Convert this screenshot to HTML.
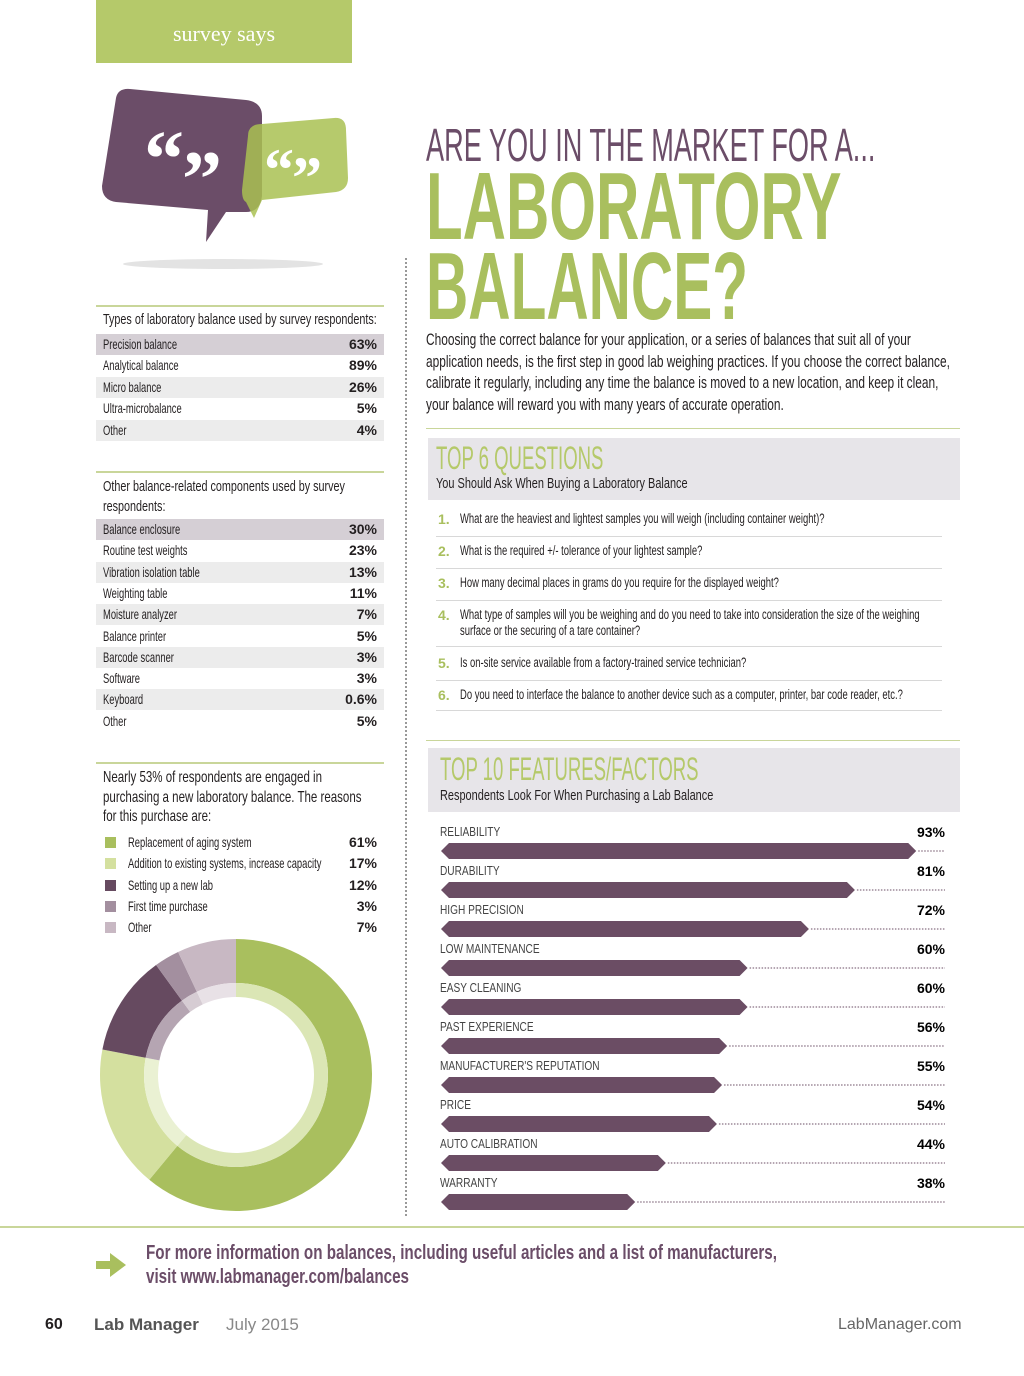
<!DOCTYPE html>
<html><head><meta charset="utf-8"><style>
*{margin:0;padding:0;box-sizing:border-box}
body{width:1024px;height:1376px;background:#fff;position:relative;overflow:hidden;font-family:"Liberation Sans",sans-serif;color:#231f20}
.a{position:absolute;white-space:nowrap;transform-origin:left top}
.row{position:absolute;left:96px;width:288px;height:21px;font-size:14px;line-height:21px;padding-left:7px;white-space:nowrap}
.row span.l{display:inline-block;transform:scaleX(.67);transform-origin:left center}
.row b{position:absolute;right:7px;font-weight:bold;font-size:14px}
.q{position:absolute;left:436px;width:506px;border-bottom:1px solid #d8d8d8}
.q i{font-style:normal;color:#a9bf5e;font-weight:bold;font-size:14px;position:absolute;left:2px;top:0}
.q span{position:absolute;left:24px;top:0;font-size:13.5px;line-height:16px;white-space:normal;width:660px;transform:scaleX(.7);transform-origin:left top}
</style></head><body>
<div class="a" style="left:96px;top:0;width:256px;height:63px;background:#b5c96a;color:#fff;font-family:'Liberation Serif',serif;font-size:22px;text-align:center;line-height:68px">survey says</div>

<svg class="a" style="left:96px;top:86px" width="260" height="190">
<ellipse cx="127" cy="178" rx="100" ry="5" fill="#e3e3e3"/>
<path d="M20 12 Q22 2 34 3 L150 14 Q166 16 166 30 L166 110 Q164 126 150 126 L130 126 L110 156 L112 124 L20 116 Q6 114 6 100 Z" fill="#6b4d68"/>
<path d="M152 50 Q152 38 166 38 L238 32 Q250 31 250 44 L252 92 Q252 104 240 106 L166 114 L158 132 L150 116 Q146 114 146 104 Z" fill="#a9c152" opacity="0.85"/>
<text x="48" y="100" font-family="Liberation Serif" font-weight="bold" font-size="80" fill="#fff">“</text>
<text x="86" y="120" font-family="Liberation Serif" font-weight="bold" font-size="80" fill="#fff">”</text>
<text x="168" y="104" font-family="Liberation Serif" font-weight="bold" font-size="60" fill="#fff">“</text>
<text x="196" y="112" font-family="Liberation Serif" font-weight="bold" font-size="60" fill="#fff">”</text>
</svg>

<div class="a" style="left:96px;top:305px;width:288px;height:2px;background:#c9d69a"></div>
<div class="a" style="left:103px;top:311px;font-size:15px;transform:scaleX(.72)">Types of laboratory balance used by survey respondents:</div>
<div id="t1"></div>
<div class="a" style="left:96px;top:471px;width:288px;height:2px;background:#c9d69a"></div>
<div class="a" style="left:103px;top:477px;font-size:15px;line-height:20px;white-space:normal;width:375px;transform:scaleX(.72)">Other balance-related components used by survey respondents:</div>
<div id="t2"></div>

<div class="a" style="left:96px;top:762px;width:288px;height:2px;background:#c9d69a"></div>
<div class="a" style="left:103px;top:768px;font-size:16px;line-height:19.5px;white-space:normal;width:382px;transform:scaleX(.72)">Nearly 53% of respondents are engaged in purchasing a new laboratory balance. The reasons for this purchase are:</div>
<div id="leg"></div>
<svg class="a" id="donut" style="left:96px;top:935px" width="280" height="280"></svg>

<div class="a" style="left:405px;top:258px;height:958px;border-left:2px dotted #999"></div>

<div class="a" style="left:426px;top:118px;font-size:46px;color:#6b4d68;transform:scaleX(0.59)">ARE YOU IN THE MARKET FOR A...</div>
<div class="a" style="left:426px;top:152px;font-size:96px;font-weight:bold;color:#a9bf5e;transform:scaleX(0.625)">LABORATORY</div>
<div class="a" style="left:426px;top:232px;font-size:96px;font-weight:bold;color:#a9bf5e;transform:scaleX(0.61)">BALANCE?</div>
<div class="a" style="left:426px;top:329px;width:750px;white-space:normal;font-size:17px;line-height:21.5px;transform:scaleX(.7)">Choosing the correct balance for your application, or a series of balances that suit all of your application needs, is the first step in good lab weighing practices. If you choose the correct balance, calibrate it regularly, including any time the balance is moved to a new location, and keep it clean, your balance will reward you with many years of accurate operation.</div>
<div class="a" style="left:426px;top:428px;width:534px;height:1px;background:#c9d69a"></div>

<div class="a" style="left:428px;top:438px;width:532px;height:62px;background:#e7e5e9"></div>
<div class="a" style="left:436px;top:440px;font-size:32px;color:#b5c96a;transform:scaleX(0.58)">TOP 6 QUESTIONS</div>
<div class="a" style="left:436px;top:475px;font-size:15px;transform:scaleX(.73)">You Should Ask When Buying a Laboratory Balance</div>
<div class="q" style="top:511px;height:26px"><i>1.</i><span>What are the heaviest and lightest samples you will weigh (including container weight)?</span></div>
<div class="q" style="top:543px;height:26px"><i>2.</i><span>What is the required +/- tolerance of your lightest sample?</span></div>
<div class="q" style="top:575px;height:26px"><i>3.</i><span>How many decimal places in grams do you require for the displayed weight?</span></div>
<div class="q" style="top:607px;height:40px"><i>4.</i><span>What type of samples will you be weighing and do you need to take into consideration the size of the weighing surface or the securing of a tare container?</span></div>
<div class="q" style="top:655px;height:26px"><i>5.</i><span>Is on-site service available from a factory-trained service technician?</span></div>
<div class="q" style="top:687px;height:24px"><i>6.</i><span>Do you need to interface the balance to another device such as a computer, printer, bar code reader, etc.?</span></div>

<div class="a" style="left:426px;top:740px;width:534px;height:1px;background:#c9d69a"></div>
<div class="a" style="left:428px;top:748px;width:532px;height:64px;background:#e7e5e9"></div>
<div class="a" style="left:440px;top:751px;font-size:32px;color:#b5c96a;transform:scaleX(0.58)">TOP 10 FEATURES/FACTORS</div>
<div class="a" style="left:440px;top:787px;font-size:15px;transform:scaleX(.73)">Respondents Look For When Purchasing a Lab Balance</div>
<svg class="a" id="bars" style="left:430px;top:815px" width="530" height="400"></svg>

<div class="a" style="left:0;top:1226px;width:1024px;height:2px;background:#c9d69a"></div>
<svg class="a" style="left:96px;top:1250px" width="34" height="30"><path d="M0 11 H14 V3 L30 15 L14 27 V19 H0 Z" fill="#a9bf5e"/></svg>
<div class="a" style="left:146px;top:1241px;font-size:20px;line-height:24px;font-weight:bold;color:#6b4d68;transform:scaleX(.76)">For more information on balances, including useful articles and a list of manufacturers,<br>visit www.labmanager.com/balances</div>
<div class="a" style="left:45px;top:1316px;font-size:16px;font-weight:bold">60</div>
<div class="a" style="left:94px;top:1315px;font-size:17px;font-weight:bold;color:#555">Lab Manager</div>
<div class="a" style="left:226px;top:1315px;font-size:17px;color:#888">July 2015</div>
<div class="a" style="left:838px;top:1316px;font-size:16px;color:#666">LabManager.com</div>

<script>
const t1Labels=["Precision balance","Analytical balance","Micro balance","Ultra-microbalance","Other"];
const t1Values=["63%","89%","26%","5%","4%"];
const t2Labels=["Balance enclosure","Routine test weights","Vibration isolation table","Weighting table","Moisture analyzer","Balance printer","Barcode scanner","Software","Keyboard","Other"];
const t2Values=["30%","23%","13%","11%","7%","5%","3%","3%","0.6%","5%"];
const reasonLabels=["Replacement of aging system","Addition to existing systems, increase capacity","Setting up a new lab","First time purchase","Other"];
const reasonValues=[61,17,12,3,7];
const featureLabels=["RELIABILITY","DURABILITY","HIGH PRECISION","LOW MAINTENANCE","EASY CLEANING","PAST EXPERIENCE","MANUFACTURER'S REPUTATION","PRICE","AUTO CALIBRATION","WARRANTY"];
const featureValues=[93,81,72,60,60,56,55,54,44,38];

function table(id,labels,vals,top,h,nm){
  const c=document.getElementById(id);
  labels.forEach((l,i)=>{
    const d=document.createElement('div');d.className='row';
    
    
    d.style.top=(top+i*h)+'px';
    d.style.background=i==0?'#d5cfd5':(i%2==0?'#ececec':'#fff');
    d.innerHTML='<span class="l">'+l+'</span><b>'+vals[i]+'</b>';c.appendChild(d);
  });
}
table('t1',t1Labels,t1Values,334,21.4,'balance-type');
table('t2',t2Labels,t2Values,519,21.3,'component');

const cols=["#a9bf5e","#d4e09f","#664a60","#a38f9f","#c8b8c3"];
const inner=["#dbe6b5","#eaf1d3","#b5a5b2","#d6ccd3","#e8e1e6"];
const leg=document.getElementById('leg');
reasonLabels.forEach((l,i)=>{
  const d=document.createElement('div');d.className='row';
  
  
  d.style.top=(832+i*21.3)+'px';d.style.paddingLeft='32px';
  d.innerHTML='<span style="position:absolute;left:9px;top:5px;width:11px;height:11px;background:'+cols[i]+'"></span><span class="l">'+l+'</span><b>'+reasonValues[i]+'%</b>';
  leg.appendChild(d);
});
const NS='http://www.w3.org/2000/svg';
const dn=document.getElementById('donut');const cx=140,cy=140;
function arc(r0,r1,a0,a1){const p=(r,a)=>[cx+r*Math.sin(a),cy-r*Math.cos(a)];const L=a1-a0>Math.PI?1:0;
const[a,b]=p(r1,a0),[c,d]=p(r1,a1),[e,f]=p(r0,a1),[g,h]=p(r0,a0);
return `M${a} ${b}A${r1} ${r1} 0 ${L} 1 ${c} ${d}L${e} ${f}A${r0} ${r0} 0 ${L} 0 ${g} ${h}Z`;}
const tot=reasonValues.reduce((s,v)=>s+v,0);let acc=0;
reasonValues.forEach((v,i)=>{const a0=acc/tot*2*Math.PI;acc+=v;const a1=acc/tot*2*Math.PI;
 const o=document.createElementNS(NS,'path');o.setAttribute('d',arc(92,136,a0,a1));o.setAttribute('fill',cols[i]);
 
 dn.appendChild(o);
 const n=document.createElementNS(NS,'path');n.setAttribute('d',arc(78,92,a0,a1));n.setAttribute('fill',inner[i]);
 
 dn.appendChild(n);});

const bs=document.getElementById('bars');const x0=11,W=511,step=39;
const x=v=>x0+v/100*W;
featureLabels.forEach((l,i)=>{const y=i*step;
 const t=document.createElementNS(NS,'text');t.setAttribute('transform',`translate(${x0-1},${y+21}) scale(0.78,1)`);t.setAttribute('font-size','13');t.setAttribute('font-family','Liberation Sans');t.setAttribute('fill','#444');t.textContent=l;
 
 bs.appendChild(t);
 const vt=document.createElementNS(NS,'text');vt.setAttribute('x',515);vt.setAttribute('y',y+22);vt.setAttribute('text-anchor','end');vt.setAttribute('font-size','14');vt.setAttribute('font-weight','bold');vt.setAttribute('font-family','Liberation Sans');vt.textContent=featureValues[i]+'%';
 
 bs.appendChild(vt);
 const by=y+28,xe=x(featureValues[i]);
 const p=document.createElementNS(NS,'path');p.setAttribute('d',`M${x0+8} ${by}L${xe-8} ${by}L${xe} ${by+8}L${xe-8} ${by+16}L${x0+8} ${by+16}L${x0} ${by+8}Z`);p.setAttribute('fill','#6b4d64');
 
 bs.appendChild(p);
 const ln=document.createElementNS(NS,'line');ln.setAttribute('x1',xe+2);ln.setAttribute('x2',515);ln.setAttribute('y1',by+8);ln.setAttribute('y2',by+8);ln.setAttribute('stroke','#6b4d64');ln.setAttribute('stroke-dasharray','1.5 1.5');
 
 bs.appendChild(ln);
});
</script>
</body></html>
